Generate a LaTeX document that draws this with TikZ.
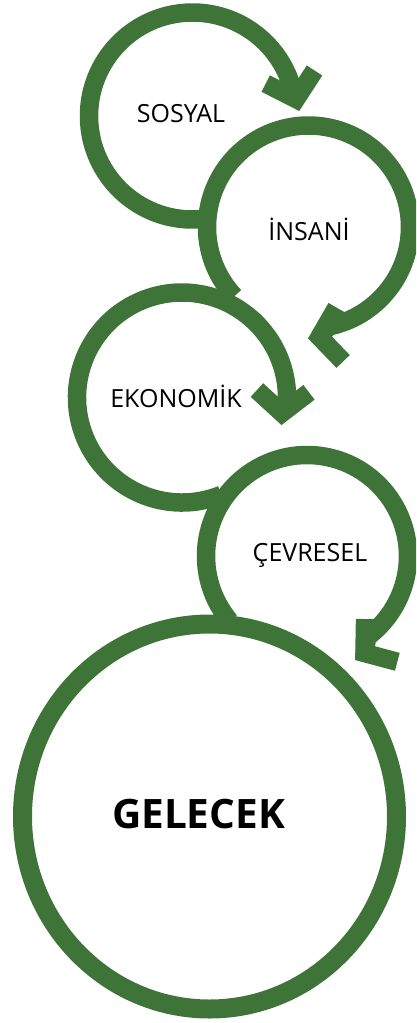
\documentclass[tikz,border=0pt]{standalone}
\usepackage{fontspec}
\setmainfont{Open Sans}
\usetikzlibrary{calc}
\definecolor{ringgreen}{HTML}{3F7439}
\begin{document}
\begin{tikzpicture}[x=1pt,y=-1pt,
  ring/.style={draw=ringgreen,line width=18.5pt,line cap=butt,line join=round},
  chev/.style={draw=ringgreen,line width=18.5pt,line cap=butt,line join=miter,miter limit=10},
  lbl/.style={anchor=base,font=\fontsize{25}{30}\selectfont,inner sep=0pt},
  biglbl/.style={anchor=base,font=\fontsize{40.5}{48}\selectfont\bfseries,inner sep=0pt}]
\useasboundingbox (0,0) rectangle (416,1023);
\clip (0,0) rectangle (416,1023);
% centres
\coordinate (c1) at (192.5,116);
\coordinate (c2) at (308.5,227);
\coordinate (c3) at (182,397.5);
\coordinate (c4) at (307,556);
\coordinate (gc) at (209.5,816.5);
% arrow vertices
\coordinate (v1) at (296,99);
\coordinate (v2) at (319.5,337);
\coordinate (v3) at (282,413);
\coordinate (v4) at (364.5,653);
% big circle
\draw[ring,line width=19pt] (gc) ellipse[x radius=187,y radius=192.5];
% arcs
\draw[ring] ($(c1)+(86:103.5)$) arc[start angle=86,end angle=344,radius=103.5] -- (v1);
\draw[ring] ($(c2)+(137:101.5)$) arc[start angle=137,end angle=438.5,radius=101.5] -- (v2);
\draw[ring] ($(c3)+(68:105)$) arc[start angle=68,end angle=362,radius=105] -- (v3);
\draw[ring] ($(c4)+(140:101)$) arc[start angle=140,end angle=413.4,radius=101] -- (v4);
% arrow heads
\draw[chev] ($(v1)+(207:34)$) -- (v1) -- ($(v1)+(303:34)$);
\draw[chev] ($(v2)+(300:34)$) -- (v2) -- ($(v2)+(46:34)$);
\draw[chev] ($(v3)+(222.5:34)$) -- (v3) -- ($(v3)+(322.5:34)$);
\draw[chev] ($(v4)+(271:34)$) -- (v4) -- ($(v4)+(15:34)$);
% labels
\node[lbl] (sosyal) at (181,122) {SOSYAL};
\node[lbl] (insani) at (309,240) {İNSANİ};
\node[lbl] (ekonomik) at (176,407) {EKONOMİK};
\node[lbl] (cevresel) at (310,561.7) {ÇEVRESEL};
\node[biglbl] (gelecek) at (198.5,828) {GELECEK};
\end{tikzpicture}
\end{document}
